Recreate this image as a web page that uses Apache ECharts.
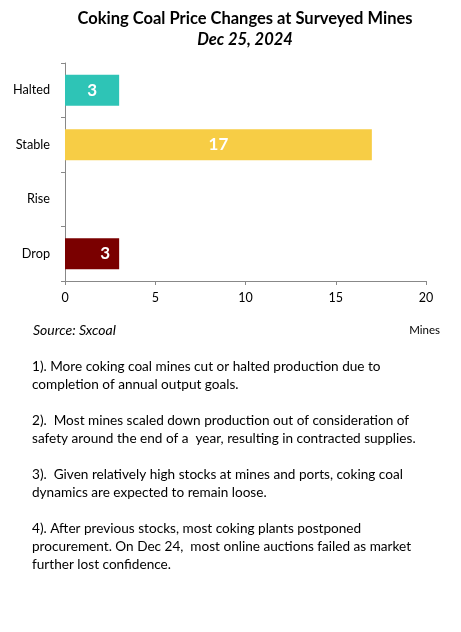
<!DOCTYPE html>
<html>
<head>
<meta charset="utf-8">
<script src="https://cdn.jsdelivr.net/npm/echarts@6/dist/echarts.min.js"></script>
<style>
  html, body { margin: 0; padding: 0; background: #fff; }
  #chart { width: 461px; height: 632px; }
</style>
</head>
<body>
<div id="chart"></div>
<script>
// data
var categories = ['Halted', 'Stable', 'Rise', 'Drop']
var mines = [3, 17, 0, 3]
var barColors = ['#2EC4B6', '#F7CD45', '#F7CD45', '#7A0000']
var labelPos = ['inside', 'inside', 'inside', 'insideRight']
var xTicks = [0, 5, 10, 15, 20]

var notes = [
  '1). More coking coal mines cut or halted production due to\ncompletion of annual output goals.',
  '2).  Most mines scaled down production out of consideration of\nsafety around the end of a  year, resulting in contracted supplies.',
  '3).  Given relatively high stocks at mines and ports, coking coal\ndynamics are expected to remain loose.',
  '4). After previous stocks, most coking plants postponed\nprocurement. On Dec 24,  most online auctions failed as market\nfurther lost confidence.'
]

var font = 'Lato, "Open Sans", sans-serif'
var chart = echarts.init(document.getElementById('chart'), null, { renderer: 'canvas' })

var barData = mines.map(function (v, i) {
  return {
    value: v,
    itemStyle: { color: barColors[i] },
    label: { show: v > 0, position: labelPos[i] }
  }
})

// notes, one paragraph every 54px
var noteGraphics = notes.map(function (t, i) {
  return {
    type: 'text',
    left: 32,
    top: 358 + i * 54,
    style: { text: t, fontFamily: font, fontSize: 13.6, lineHeight: 18, fill: '#000' }
  }
})

var option = {
  animation: false,
  backgroundColor: '#fff',
  title: [{
    text: 'Coking Coal Price Changes at Surveyed Mines',
    left: 240, top: 5, textAlign: 'center',
    textStyle: { fontFamily: font, fontSize: 16.5, fontWeight: 'bold', color: '#000' }
  }, {
    text: 'Dec 25, 2024',
    left: 240, top: 26, textAlign: 'center',
    textStyle: { fontFamily: font, fontSize: 16.5, fontWeight: 'bold', fontStyle: 'italic', color: '#000' }
  }],
  grid: { left: 65, right: 35, top: 63, bottom: 351, containLabel: false },
  xAxis: {
    type: 'value',
    min: 0, max: 20, interval: 5,
    axisLine: { show: true, lineStyle: { color: '#888' } },
    axisTick: { show: true, length: 4, lineStyle: { color: '#888' } },
    splitLine: { show: false },
    axisLabel: {
      margin: 10, fontFamily: font, fontSize: 12.5, color: '#000',
      formatter: function (v) { return xTicks.indexOf(v) >= 0 ? String(v) : '' }
    }
  },
  yAxis: {
    type: 'category',
    data: categories,
    inverse: true,
    axisLine: { show: true, lineStyle: { color: '#888' } },
    axisTick: { show: true, length: 4, alignWithLabel: false, lineStyle: { color: '#888' } },
    axisLabel: { margin: 15, fontFamily: font, fontSize: 12.7, color: '#000' }
  },
  series: [{
    type: 'bar',
    data: barData,
    barWidth: 31,
    label: {
      show: true,
      color: '#fff',
      fontFamily: font,
      fontSize: 17,
      fontWeight: 'bold',
      distance: 9
    }
  }],
  graphic: [{
    type: 'text', left: 33, top: 323,
    style: { text: 'Source: Sxcoal', fontFamily: font, fontSize: 14, fontStyle: 'italic', fill: '#000' }
  }, {
    type: 'text', right: 21, top: 324,
    style: { text: 'Mines', fontFamily: font, fontSize: 11.5, fill: '#000' }
  }].concat(noteGraphics)
}

chart.setOption(option)
window.onresize = function () {
  chart.resize()
}
</script>
</body>
</html>
